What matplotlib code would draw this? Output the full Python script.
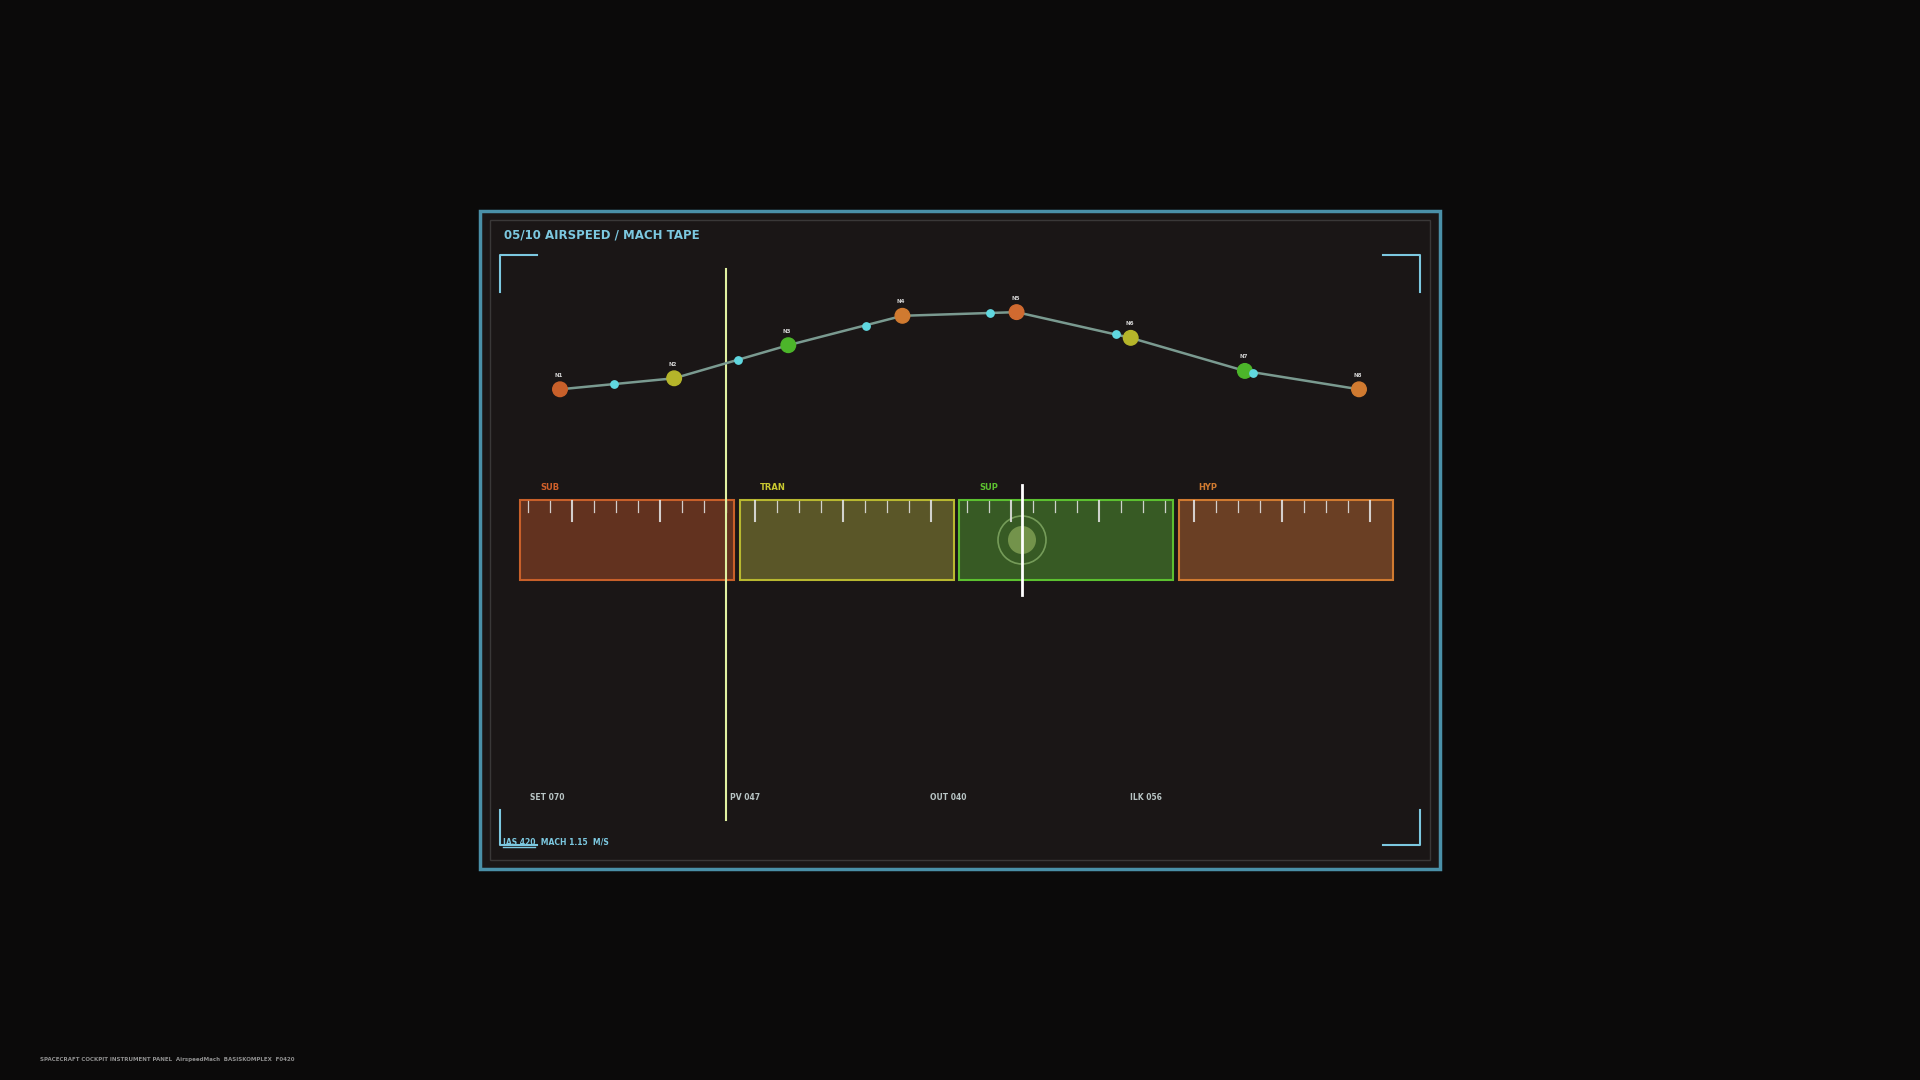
import matplotlib.pyplot as plt
from matplotlib.patches import Rectangle, Circle

# node airspeed profile
node_labels = ["N1", "N2", "N3", "N4", "N5", "N6", "N7", "N8"]
node_values = [12, 21, 48, 72, 75, 54, 27, 12]
node_colors = ["#c8602a", "#b5b52a", "#4cb52a", "#d07a30", "#d06a30", "#b5b52a", "#4cb52a", "#d07a30"]
# intermediate samples (fractional node index, value)
sample_pos = [0.47, 1.56, 2.68, 3.77, 4.87, 6.07]
sample_values = [16, 36, 64, 74, 57, 25]

# mach bands
band_labels = ["SUB", "TRAN", "SUP", "HYP"]
band_faces = ["#62321f", "#5a5628", "#375a24", "#6a3f24"]
band_edges = ["#c8602a", "#b8b830", "#5cc030", "#d07a30"]
band_text = ["#d0602a", "#c8c830", "#5cc030", "#d07a30"]

readouts = ["SET 070", "PV 047", "OUT 040", "ILK 056"]

W, H = 1920, 1080
fig = plt.figure(figsize=(19.2, 10.8), dpi=100, facecolor="#0b0a0a")
bg = fig.add_axes([0, 0, 1, 1])
bg.set_xlim(0, W)
bg.set_ylim(H, 0)
bg.axis("off")
bg.set_facecolor("#0b0a0a")

font = ["DejaVu Sans"]

# panel
bg.add_patch(Rectangle((480, 211), 960, 658, facecolor="#1a1616", edgecolor="#4a90a8", lw=2.5))
bg.add_patch(Rectangle((490, 220), 940, 640, facecolor="none", edgecolor="#3a3838", lw=1))
bg.text(504, 235, "05/10 AIRSPEED / MACH TAPE", color="#7cc8e0", fontsize=8.5,
        fontweight="bold", va="center", family=font)

# corner brackets
bc = "#7cc8e0"
L = 37
bg.plot([500, 500, 500 + L], [255 + L, 255, 255], color=bc, lw=1.5)
bg.plot([1420, 1420, 1420 - L], [255 + L, 255, 255], color=bc, lw=1.5)
bg.plot([500, 500, 500 + L], [810, 845, 845], color=bc, lw=1.5)
bg.plot([1420, 1420, 1420 - L], [810, 845, 845], color=bc, lw=1.5)

# bands
bx0, bw, gap = 520, 214, 5.5
for i, lab in enumerate(band_labels):
    x0 = bx0 + i * (bw + gap)
    bg.add_patch(Rectangle((x0, 500), bw, 80, facecolor=band_faces[i], edgecolor=band_edges[i], lw=1.5))
    bg.text(x0 + 20, 487, lab, color=band_text[i], fontsize=6, fontweight="bold", va="center", family=font)
    for k in range(10):
        tx = x0 + 8 + k * 22 if i % 2 == 0 else x0 + 15 + k * 22
        if tx > x0 + bw - 2:
            break
        major = (k % 4 == 2) if i % 2 == 0 else (k % 4 == 0)
        bg.plot([tx, tx], [501, 521 if major else 512], color="#e0e0e0",
                lw=1.5 if major else 0.9, alpha=0.9)

# pointer
bg.add_patch(Circle((1022, 540), 24, facecolor="none", edgecolor="#90b870", lw=1.2, alpha=0.7))
bg.add_patch(Circle((1022, 540), 14, facecolor="#7a9a50", edgecolor="none", alpha=0.9))
bg.plot([1022, 1022], [485, 595], color="white", lw=2)

# cursor
bg.plot([726, 726], [269, 820], color="#e0f0a0", lw=1.5)

# readouts
for lab, x in zip(readouts, [530, 730, 930, 1130]):
    bg.text(x, 797, lab, color="#b8c4c4", fontsize=5.5, fontweight="bold", va="center", family=font)
bg.text(503, 842, "IAS 420  MACH 1.15  M/S", color="#7cc8e0", fontsize=5.5,
        fontweight="bold", va="center", family=font)
bg.plot([503, 535], [847, 847], color="#7cc8e0", lw=1)
bg.text(40, 1059, "SPACECRAFT COCKPIT INSTRUMENT PANEL  AirspeedMach  BASISKOMPLEX  F0420",
        color="#909090", fontsize=4, fontweight="bold", va="center", family=font)

# line chart
ax = fig.add_axes([560 / W, 1 - 404 / H, 799 / W, 122.5 / H])
ax.set_xlim(0, 7)
ax.set_ylim(0, 100)
ax.axis("off")
ax.patch.set_alpha(0)
xs = list(range(len(node_values)))
ax.plot(xs, node_values, color="#7a9a90", lw=1.8, zorder=1)
ax.scatter(xs, node_values, s=110, c=node_colors, zorder=3, clip_on=False)
ax.scatter(sample_pos, sample_values, s=28, c="#60d8e0", zorder=4, clip_on=False)
for x, v, lab in zip(xs, node_values, node_labels):
    ax.annotate(lab, (x, v), xytext=(-4, 9), textcoords="offset points", color="#d0d0d0",
                fontsize=4, fontweight="bold", family=font, annotation_clip=False)

fig.savefig("out.png", dpi=100, facecolor=fig.get_facecolor())
